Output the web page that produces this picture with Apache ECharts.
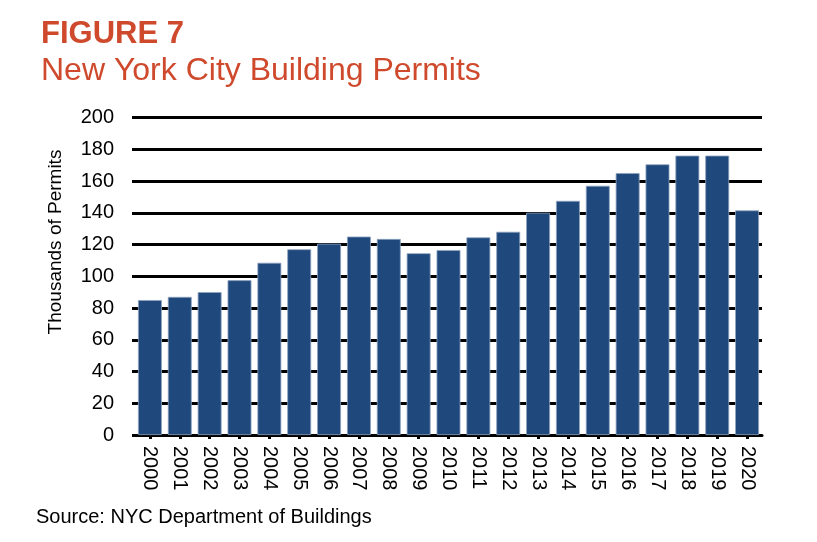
<!DOCTYPE html>
<html>
<head>
<meta charset="utf-8">
<script src="https://cdn.jsdelivr.net/npm/echarts@6/dist/echarts.min.js"></script>
<style>html,body{margin:0;padding:0;background:#fff;}#c{width:817px;height:542px;}</style>
</head>
<body>
<div id="c"></div>
<script>
const years = ['2000','2001','2002','2003','2004','2005','2006','2007','2008','2009','2010','2011','2012','2013','2014','2015','2016','2017','2018','2019','2020'];
const permits = [85, 87, 90, 97.5, 108.5, 117, 120.5, 125, 123.5, 114.5, 116.5, 124.5, 128, 140, 147.5, 157, 165, 170.5, 176, 176, 141.5];
const yTicks = [0, 20, 40, 60, 80, 100, 120, 140, 160, 180, 200];

const font = '"Liberation Sans", Arial, sans-serif';
const chart = echarts.init(document.getElementById('c'));
chart.setOption({
  animation: false,
  backgroundColor: '#ffffff',
  title: {
    text: 'FIGURE 7',
    subtext: 'New York City Building Permits',
    left: 36,
    top: 14,
    itemGap: 5,
    textStyle: {fontFamily: font, fontSize: 31, fontWeight: 'bold', color: '#CF4A2D'},
    subtextStyle: {fontFamily: font, fontSize: 32, color: '#CF4A2D'}
  },
  grid: {left: 135, right: 55, top: 117.5, bottom: 107, containLabel: false},
  xAxis: {
    type: 'category',
    data: years,
    axisLine: {show: true, lineStyle: {color: '#000', width: 3}},
    axisTick: {show: true, alignWithLabel: true, length: 4, lineStyle: {color: '#000', width: 3}},
    axisLabel: {rotate: -90, fontFamily: font, fontSize: 20, color: '#000', margin: 11, interval: 0}
  },
  yAxis: {
    type: 'value',
    min: 0,
    max: 200,
    interval: 20,
    axisLine: {show: false},
    axisTick: {show: true, length: 3, lineStyle: {color: '#000', width: 3}},
    axisLabel: {fontFamily: font, fontSize: 20, color: '#000', margin: 21,
      formatter: v => yTicks.includes(v) ? String(v) : ''},
    splitLine: {show: true, lineStyle: {color: '#000', width: 3}}
  },
  graphic: [
    {type: 'text', x: 56, y: 242, rotation: Math.PI / 2,
      style: {text: 'Thousands of Permits', fontFamily: font, fontSize: 19, fill: '#000', textAlign: 'center', textVerticalAlign: 'middle'}},
    {type: 'text', left: 36, top: 507,
      style: {text: 'Source: NYC Department of Buildings', fontFamily: font, fontSize: 20, fill: '#000'}}
  ],
  series: [{
    type: 'bar',
    data: permits,
    barCategoryGap: '20%',
    itemStyle: {color: '#1F497D', borderColor: '#8fa3bf', borderWidth: 0.8},
    z: 3
  }]
});
</script>
</body>
</html>
